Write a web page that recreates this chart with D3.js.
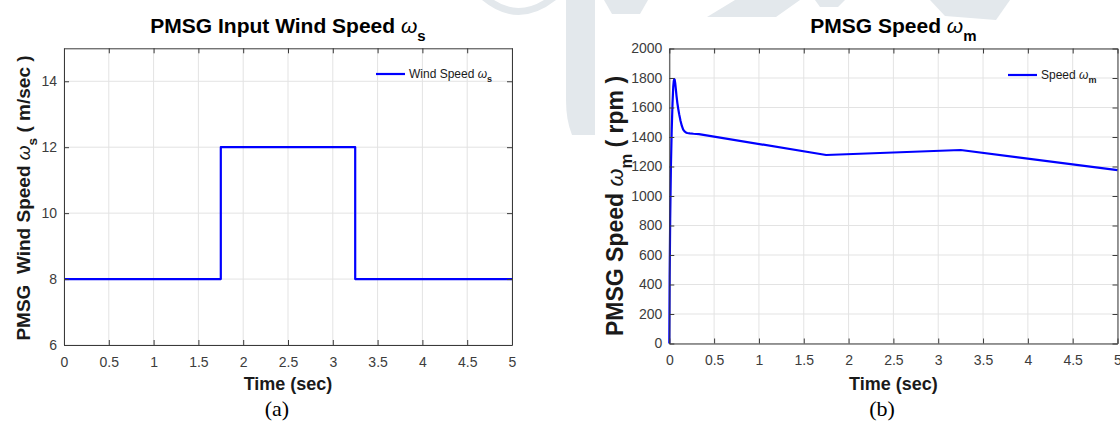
<!DOCTYPE html>
<html>
<head>
<meta charset="utf-8">
<script src="https://cdn.jsdelivr.net/npm/d3@7"></script>
<style>
  html, body { margin: 0; padding: 0; background: #fff; }
  svg { display: block; }
  text { font-family: "Liberation Sans", Arial, Helvetica, sans-serif; }
</style>
</head>
<body>
<svg id="fig" width="1120" height="428"></svg>
<script>
// Shared time axis
const timeTicks = [0, 0.5, 1, 1.5, 2, 2.5, 3, 3.5, 4, 4.5, 5];

// (a) wind speed step profile, m/sec (value holds until next breakpoint)
const windTime  = [0, 1.75, 3.25, 5];
const windSpeed = [8, 12, 8, 8];
const windTicks = [6, 8, 10, 12, 14];

// (b) generator speed, rpm: start-up transient, then slow drift with the wind steps
const speedTime = [0, 0.004, 0.01, 0.018, 0.027, 0.036, 0.044, 0.05, 0.055, 0.06, 0.066,
                   0.073, 0.08, 0.09, 0.1, 0.11, 0.125, 0.14, 0.155, 0.17, 0.185, 0.2,
                   0.23, 0.27, 0.33, 1.75, 3.25, 5.0];
const speedRpm  = [0, 450, 850, 1200, 1450, 1630, 1740, 1780, 1792, 1788, 1765,
                   1725, 1680, 1630, 1590, 1555, 1510, 1475, 1450, 1438, 1431, 1427,
                   1424, 1422, 1420, 1278, 1312, 1176];
const rpmTicks  = [0, 200, 400, 600, 800, 1000, 1200, 1400, 1600, 1800, 2000];

const svg = d3.select("#fig");
svg.append("rect").attr("width", 1120).attr("height", 428).attr("fill", "#fff");

// faint background logo
const logo = svg.append("g").attr("fill", "#e3e8ec");
logo.append("path").attr("d", "M482,0 Q518,30 556,0 L544,0 Q518,16 494,0 Z");
logo.append("path").attr("d", "M566,0 L595,0 L595,135 L572,135 Q566,120 566,100 Z");
logo.append("path").attr("d", "M604,0 L648,0 L640,14 L612,14 Z");
logo.append("path").attr("d", "M735,0 L800,0 L776,17 L707,17 Z");
logo.append("path").attr("d", "M815,0 L845,0 L838,7 L820,7 Z");
logo.append("path").attr("d", "M930,0 L1010,0 L996,20 L945,16 Z");

function drawPanel(p) {
  const x = d3.scaleLinear().domain([0, 5]).range([p.left, p.right]);
  const y = d3.scaleLinear().domain(p.yDomain).range([p.bottom, p.top]);
  const g = svg.append("g");

  // plot background
  g.append("rect").attr("x", p.left).attr("y", p.top)
    .attr("width", p.right - p.left).attr("height", p.bottom - p.top)
    .attr("fill", "#fff");

  // grid
  const grid = g.append("g").attr("stroke", "#e3e3e3").attr("stroke-width", 1);
  grid.selectAll(".gx").data(timeTicks).join("line")
    .attr("x1", d => x(d)).attr("x2", d => x(d))
    .attr("y1", p.top).attr("y2", p.bottom);
  grid.selectAll(".gy").data(p.yTicks).join("line")
    .attr("x1", p.left).attr("x2", p.right)
    .attr("y1", d => y(d)).attr("y2", d => y(d));

  // data line
  const line = d3.line().x(d => x(d[0])).y(d => y(d[1])).curve(p.curve);
  g.append("path").datum(d3.zip(p.t, p.v))
    .attr("d", line).attr("fill", "none")
    .attr("stroke", "#0000ff").attr("stroke-width", 2.2)
    .attr("stroke-linejoin", "round");

  // axes, ticks pointing inward on all four sides
  const ax = d3.axisBottom(x).tickValues(timeTicks).tickSize(-5).tickSizeOuter(0)
    .tickPadding(12).tickFormat(d => String(d));
  const ay = d3.axisLeft(y).tickValues(p.yTicks).tickSize(-5).tickSizeOuter(0)
    .tickPadding(7).tickFormat(d => String(d));
  const axT = d3.axisTop(x).tickValues(timeTicks).tickSize(-5).tickSizeOuter(0).tickFormat("");
  const ayR = d3.axisRight(y).tickValues(p.yTicks).tickSize(-5).tickSizeOuter(0).tickFormat("");

  const styleAxis = sel => {
    sel.selectAll("path").attr("stroke", "#3a3a3a").attr("stroke-width", 1);
    sel.selectAll("line").attr("stroke", "#3a3a3a").attr("stroke-width", 1);
    sel.selectAll("text").attr("fill", "#3c3c3c")
      .style("font-family", '"Liberation Sans", Arial, sans-serif')
      .attr("font-size", 14);
  };
  g.append("g").attr("transform", `translate(0,${p.bottom})`).call(ax).call(styleAxis);
  g.append("g").attr("transform", `translate(${p.left},0)`).call(ay).call(styleAxis);
  g.append("g").attr("transform", `translate(0,${p.top})`).call(axT).call(styleAxis);
  g.append("g").attr("transform", `translate(${p.right},0)`).call(ayR).call(styleAxis);

  const cx = (p.left + p.right) / 2;

  // title
  const title = g.append("text").attr("x", cx).attr("y", 33)
    .attr("text-anchor", "middle").attr("font-size", 21).attr("font-weight", "bold")
    .attr("fill", "#000");
  title.append("tspan").text(p.titleText + " ");
  title.append("tspan").attr("font-style", "italic").attr("font-weight", "normal").text("ω");
  title.append("tspan").attr("dy", 8).attr("font-size", 15).text(p.sub);

  // y label
  const ylab = g.append("text")
    .attr("transform", `translate(${p.ylabX},${p.ylabY}) rotate(-90)`)
    .attr("text-anchor", "middle").attr("font-size", p.ylabSize).attr("font-weight", "bold")
    .attr("fill", "#1a1a1a").style("white-space", "pre");
  ylab.append("tspan").text(p.ylabText + " ");
  ylab.append("tspan").attr("font-style", "italic").attr("font-weight", "normal").text("ω");
  ylab.append("tspan").attr("dy", p.ylabSize * 0.38).attr("font-size", p.ylabSize * 0.72).text(p.sub);
  ylab.append("tspan").attr("dy", -p.ylabSize * 0.38).text(" " + p.ylabUnit);

  // x label
  g.append("text").attr("x", cx).attr("y", 390)
    .attr("text-anchor", "middle").attr("font-size", 18).attr("font-weight", "bold")
    .attr("fill", "#1a1a1a").text("Time (sec)");

  // panel caption
  g.append("text").attr("x", p.capX).attr("y", 416)
    .attr("text-anchor", "middle").attr("font-size", 22)
    .style("font-family", '"Liberation Serif", "Times New Roman", serif')
    .attr("fill", "#000").text(p.caption);

  // legend
  const lg = g.append("g");
  lg.append("line").attr("x1", p.legX).attr("x2", p.legX + 29)
    .attr("y1", p.legY).attr("y2", p.legY)
    .attr("stroke", "#0000ff").attr("stroke-width", 2.2);
  const lt = lg.append("text").attr("x", p.legX + 33).attr("y", p.legY + 4)
    .attr("font-size", 12).attr("fill", "#1a1a1a");
  lt.append("tspan").text(p.legText + " ");
  lt.append("tspan").attr("font-style", "italic").text("ω");
  lt.append("tspan").attr("dy", 4).attr("font-size", 9).attr("font-weight", "bold").text(p.sub);
}

drawPanel({
  left: 64, right: 512, top: 48.3, bottom: 345,
  yDomain: [6, 15], yTicks: windTicks,
  t: windTime, v: windSpeed, curve: d3.curveStepAfter,
  titleText: "PMSG Input Wind Speed", sub: "s",
  ylabText: "PMSG  Wind Speed", ylabUnit: "( m/sec )", ylabSize: 19, ylabX: 30, ylabY: 198,
  caption: "(a)", capX: 277,
  legText: "Wind Speed", legX: 376, legY: 74
});

drawPanel({
  left: 669.3, right: 1117.5, top: 48.5, bottom: 343.5,
  yDomain: [0, 2000], yTicks: rpmTicks,
  t: speedTime, v: speedRpm, curve: d3.curveLinear,
  titleText: "PMSG Speed", sub: "m",
  ylabText: "PMSG Speed", ylabUnit: "( rpm )", ylabSize: 23, ylabX: 623, ylabY: 206,
  caption: "(b)", capX: 882,
  legText: "Speed", legX: 1008, legY: 75
});
</script>
</body>
</html>
